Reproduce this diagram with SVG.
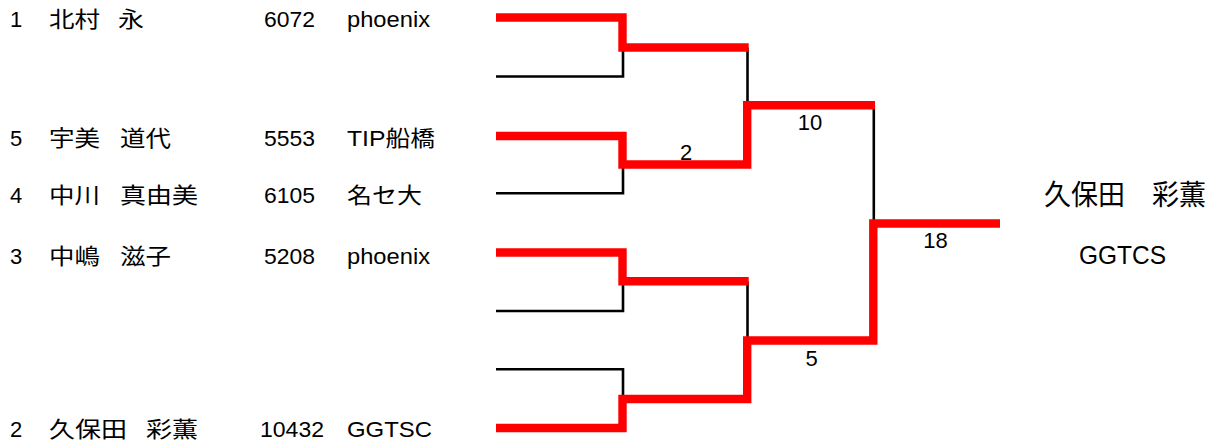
<svg xmlns="http://www.w3.org/2000/svg" width="1210" height="444" viewBox="0 0 1210 444">
<style>
text { font-family: "Liberation Sans", "Noto Sans CJK JP", sans-serif; fill: #000; }
.t { font-size: 22px; }
.lbl { font-size: 22px; text-anchor: middle; }
.blk { fill: none; stroke: #000; stroke-width: 2.6; stroke-linecap: butt; stroke-linejoin: miter; }
.red { fill: none; stroke: #ff0000; stroke-width: 8.4; stroke-linecap: butt; stroke-linejoin: miter; }
</style>
<rect width="1210" height="444" fill="#fff"/>
<g id="connectors">
  <path class="blk" d="M496,76.5 H623 V47.5"/>
  <path class="blk" d="M496,193.3 H623 V164.5"/>
  <path class="blk" d="M496,311 H623 V281.3"/>
  <path class="blk" d="M496,369.3 H623 V399"/>
  <path class="blk" d="M747.5,47.5 V105"/>
  <path class="blk" d="M747.5,281.3 V340.5"/>
  <path class="blk" d="M873.8,105 V223.5"/>
  <path class="red" d="M496,17.5 H622.5 V47.5 H748.7"/>
  <path class="red" d="M496,136 H622.5 V164.5 H747.2 V105.2 H875"/>
  <path class="red" d="M496,252.5 H622.5 V281.3 H748.7"/>
  <path class="red" d="M496,428 H622.5 V399 H747.2 V340.5 H873.3 V223.5 H1000"/>
</g>
<g id="labels">
  <text class="lbl" x="686" y="159.5">2</text>
  <text class="lbl" x="810" y="130">10</text>
  <text class="lbl" x="811.5" y="365.5">5</text>
  <text class="lbl" x="935.5" y="248">18</text>
</g>
<g id="p1">
  <text class="t" x="10" y="26.5">1</text>
  <text class="t" x="49" y="26.5" textLength="51" lengthAdjust="spacingAndGlyphs">北村</text>
  <text class="t" x="118" y="26.5" textLength="26" lengthAdjust="spacingAndGlyphs">永</text>
  <text class="t" x="264" y="26.5" textLength="51" lengthAdjust="spacingAndGlyphs">6072</text>
  <text class="t" x="347" y="26.5" textLength="83" lengthAdjust="spacingAndGlyphs">phoenix</text>
</g>
<g id="p5">
  <text class="t" x="10" y="145.5">5</text>
  <text class="t" x="49" y="145.5" textLength="51" lengthAdjust="spacingAndGlyphs">宇美</text>
  <text class="t" x="120" y="145.5" textLength="51" lengthAdjust="spacingAndGlyphs">道代</text>
  <text class="t" x="264" y="145.5" textLength="51" lengthAdjust="spacingAndGlyphs">5553</text>
  <text class="t" x="347" y="145.5" textLength="88" lengthAdjust="spacingAndGlyphs">TIP船橋</text>
</g>
<g id="p4">
  <text class="t" x="10" y="203">4</text>
  <text class="t" x="49" y="203" textLength="51" lengthAdjust="spacingAndGlyphs">中川</text>
  <text class="t" x="120" y="203" textLength="78" lengthAdjust="spacingAndGlyphs">真由美</text>
  <text class="t" x="264" y="203" textLength="51" lengthAdjust="spacingAndGlyphs">6105</text>
  <text class="t" x="347" y="203" textLength="75" lengthAdjust="spacingAndGlyphs">名セ大</text>
</g>
<g id="p3">
  <text class="t" x="10" y="263.5">3</text>
  <text class="t" x="49" y="263.5" textLength="51" lengthAdjust="spacingAndGlyphs">中嶋</text>
  <text class="t" x="120" y="263.5" textLength="51" lengthAdjust="spacingAndGlyphs">滋子</text>
  <text class="t" x="264" y="263.5" textLength="51" lengthAdjust="spacingAndGlyphs">5208</text>
  <text class="t" x="347" y="263.5" textLength="83" lengthAdjust="spacingAndGlyphs">phoenix</text>
</g>
<g id="p2">
  <text class="t" x="10" y="436.5">2</text>
  <text class="t" x="49" y="436.5" textLength="78" lengthAdjust="spacingAndGlyphs">久保田</text>
  <text class="t" x="146" y="436.5" textLength="52" lengthAdjust="spacingAndGlyphs">彩薫</text>
  <text class="t" x="260" y="436.5" textLength="64" lengthAdjust="spacingAndGlyphs">10432</text>
  <text class="t" x="347" y="436.5" textLength="85" lengthAdjust="spacingAndGlyphs">GGTSC</text>
</g>
<g id="winner">
  <text x="1044" y="204.5" font-size="28" textLength="162" lengthAdjust="spacingAndGlyphs">久保田　彩薫</text>
  <text x="1079" y="264.3" font-size="26" textLength="87" lengthAdjust="spacingAndGlyphs">GGTCS</text>
</g>
</svg>
